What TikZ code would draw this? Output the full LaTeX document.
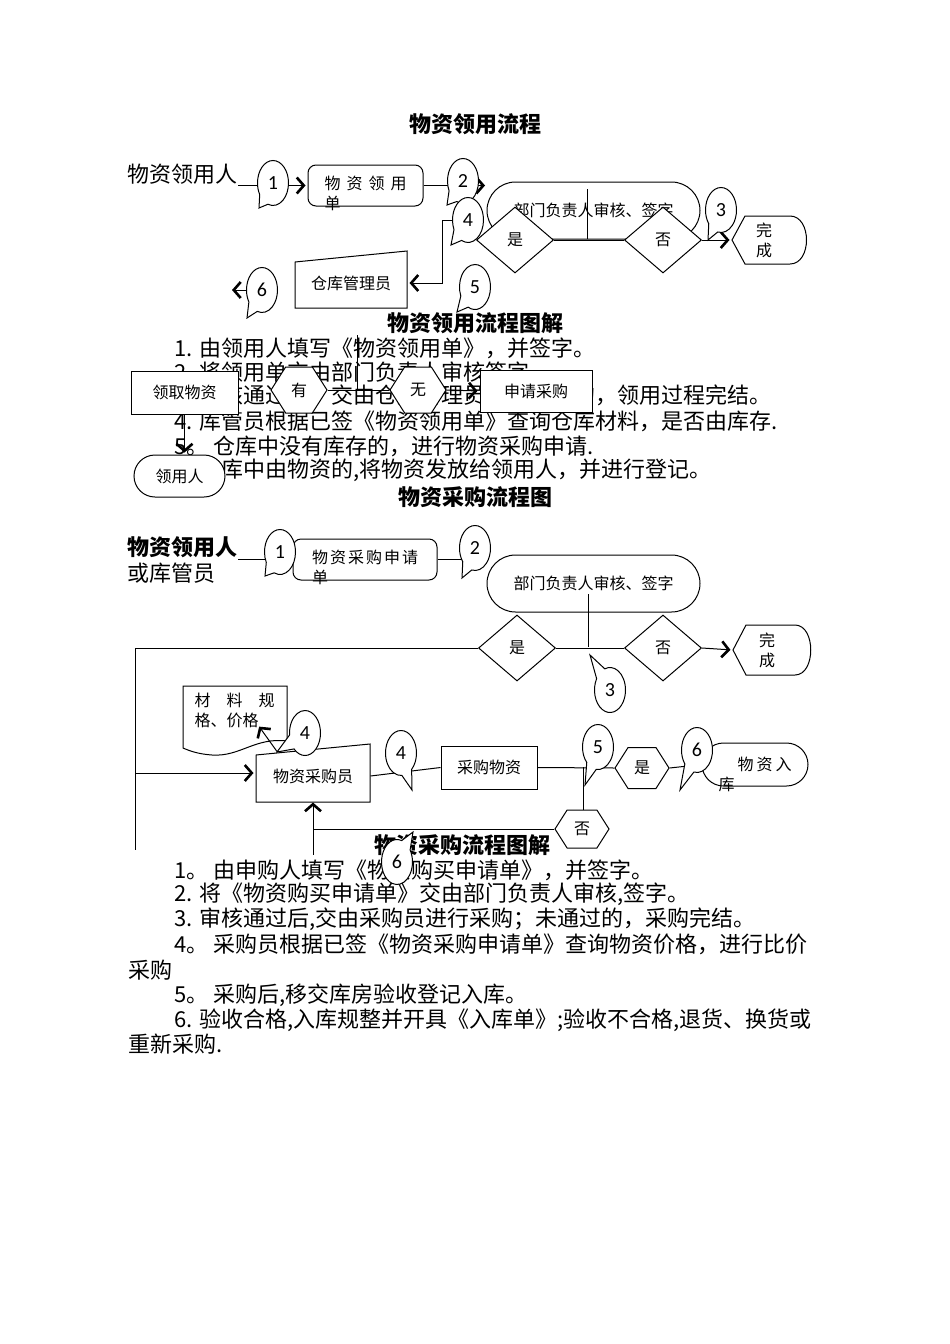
\documentclass[tikz,border=0pt]{standalone}
\usepackage{fontspec}
\setmainfont{Noto Sans CJK SC}
\newfontfamily\digitfont{Carlito}
\usepackage{tikz}
\usetikzlibrary{arrows.meta}
\usetikzlibrary{shapes.geometric}
\usetikzlibrary{shapes.misc}
\usetikzlibrary{shapes.symbols}
\usetikzlibrary{shapes.callouts}
\usetikzlibrary{calc}

\begin{document}
\begin{tikzpicture}[x=1pt, y=-1pt, line width=1pt,
                    body/.style={anchor=west, inner sep=0pt, font=\fontsize{22}{25}\selectfont},
                    headline/.style={inner sep=0pt, font=\fontsize{22}{25}\selectfont\bfseries},
                    small/.style={inner sep=0pt, font=\fontsize{16}{20}\selectfont},
                    box/.style={small, draw, fill=white, rectangle},
                    roundbox/.style={box, rounded corners=8pt},
                    pill/.style={small, draw, fill=white, rounded rectangle},
                    decision/.style={small, draw, fill=white, diamond, minimum width=77pt, minimum height=66pt},
                    hexa/.style={small, draw, fill=white, signal, signal to=east and west, signal pointer angle=115},
                    bubble/.style={draw, fill=white, ellipse callout, callout pointer arc=40, minimum width=31pt, minimum height=45pt, inner sep=0pt, font=\digitfont\fontsize{20}{20}\selectfont},
                    chev/.style={-{Straight Barb[length=7pt, width=16pt, line width=2.6pt]}, shorten >=2pt}]

    \useasboundingbox (0,0) rectangle (950,1344);
    \fill[white] (0,0) rectangle (950,1344);

    % titles
    \node[headline] (title1) at (475,124) {物资领用流程};
    \node[headline] (head1) at (475,323) {物资领用流程图解};
    \node[headline] (title2) at (475,497) {物资采购流程图};
    \node[headline] (head2) at (462,845) {物资采购流程图解};

    % notes, part 1
    \node[body] (r1) at (174,348) {1. 由领用人填写《物资领用单》，并签字。};
    \node[body] (r2) at (174,372) {2. 将领用单交由部门负责人审核签字。};
    \node[body] (r3) at (174,396) {3. 审核通过后，交由仓库管理员；未通过的，领用过程完结。};
    \node[body] (r4) at (174,421) {4. 库管员根据已签《物资领用单》查询仓库材料，是否由库存.};
    \node[body] (r5) at (174,446) {5。 仓库中没有库存的，进行物资采购申请.};
    \node[body] (r6) at (174,470) {6. 仓库中由物资的,将物资发放给领用人，并进行登记。};

    % notes, part 2
    \node[body] (s1) at (174,870) {1。 由申购人填写《物资购买申请单》，并签字。};
    \node[body] (s2) at (174,894) {2. 将《物资购买申请单》交由部门负责人审核,签字。};
    \node[body] (s3) at (174,919) {3. 审核通过后,交由采购员进行采购；未通过的，采购完结。};
    \node[body] (s4) at (174,944) {4。 采购员根据已签《物资采购申请单》查询物资价格，进行比价};
    \node[body] (s4b) at (128,970) {采购};
    \node[body] (s5) at (174,995) {5。 采购后,移交库房验收登记入库。};
    \node[body] (s6) at (174,1020) {6. 验收合格,入库规整并开具《入库单》;验收不合格,退货、换货或};
    \node[body] (s6b) at (128,1044) {重新采购.};

    % requisition flow
    \node[body] (user1) at (127,174) {物资领用人};
    \node[roundbox, minimum width=115pt, minimum height=41pt,
          label={[small, align=left, yshift=-8pt]center:{物\hspace{6pt}资\hspace{6pt}领\hspace{6pt}用\\单}}] (form1) at (365.5,185.5) {};
    \draw[chev] (user1.east |- form1.west) -- (form1.west);
    \coordinate (a2) at (487,183);
    \draw[chev] (form1.east) -- (form1.east -| a2);
    \node[pill, minimum width=213pt, minimum height=57pt] (dept1) at (593.5,210.5) {部门负责人审核、签字};
    \coordinate (j1) at (587,239);
    \draw (j1) -- ++(0,-50);
    \node[decision] (yes1) at (515,240) {是};
    \node[decision] (no1) at (663,240) {否};
    \draw (yes1.east) -- (no1.west);
    \draw[fill=white] (745,216) -- (732,240) -- (745,264) -- (790,264) .. controls (812,264) and (812,216) .. (790,216) -- cycle;
    \node[small, align=center, minimum width=64pt] (done1) at (764,240) {完\\成};
    \draw[chev] (no1.east) -- (done1.west);
    \draw[fill=white] (295,262) -- (407,251) -- (407,308) -- (295,308) -- cycle;
    \node[small, minimum width=112pt, minimum height=50pt] (wh1) at (351,283) {仓库管理员};

    \node[bubble, callout absolute pointer={(259,208)}] (p1) at (273,183) {1};
    \node[bubble, callout absolute pointer={(447,205)}] (p2) at (463,181) {2};
    \node[bubble, callout absolute pointer={(451,245)}] (p4) at (468,220) {4};
    \draw[chev] (p4.west) -- ++(-10,0) |- (wh1.east);
    \node[bubble, callout absolute pointer={(708,240)}] (p3) at (721,210) {3};
    \node[bubble, callout absolute pointer={(247,318)}] (p6) at (262,290) {6};
    \draw[chev] (p6.west) -- ++(-16,0);
    \node[bubble, callout absolute pointer={(457,312)}] (p5) at (475,287) {5};

    % stock check
    \node[box, minimum width=107pt, minimum height=43pt] (take1) at (184.5,392.5) {领取物资};
    \node[hexa, minimum width=56pt, minimum height=46pt] (have1) at (299,390) {有};
    \node[hexa, minimum width=56pt, minimum height=46pt] (none1) at (418,390) {无};
    \node[box, minimum width=112pt, minimum height=42pt] (apply1) at (536,391) {申请采购};
    \node[pill, minimum width=91pt, minimum height=42pt] (user1b) at (179.5,476) {领用人};
    \draw (have1.east) -- (none1.west);
    \draw[chev] (none1.east) -- (apply1.west);
    \coordinate (k1) at (357,390);
    \draw (k1) -- ++(0,-55);
    \draw[chev] (take1.south) -- (take1.south |- user1b.north);

    % purchase flow
    \node[anchor=west, align=left, inner sep=0pt, font=\fontsize{22}{26}\selectfont] (user2) at (127,560) {\textbf{物资领用人}\\或库管员};
    \node[roundbox, minimum width=144pt, minimum height=41pt,
          label={[small, align=left, yshift=-8pt]center:{物\hspace{2pt}资\hspace{2pt}采\hspace{2pt}购\hspace{2pt}申\hspace{2pt}请\\单}}] (form2) at (365,559.5) {};
    \draw (user2.east |- form2.west) -- (form2.west);
    \draw (form2.east) -- ++(30,0);
    \node[bubble, callout absolute pointer={(265,576)}] (q1) at (280,552) {1};
    \node[bubble, callout absolute pointer={(462,578)}] (q2) at (475,548) {2};
    \node[pill, minimum width=213pt, minimum height=57pt] (dept2) at (593.5,583.5) {部门负责人审核、签字};
    \coordinate (j2) at (588,647);
    \draw (j2) -- ++(0,-53);
    \node[decision] (yes2) at (517,648) {是};
    \node[decision] (no2) at (663,648) {否};
    \draw (yes2.east) -- (no2.west);
    \draw[fill=white] (746,625) -- (733,650) -- (746,675) -- (795,675) .. controls (816,675) and (816,625) .. (795,625) -- cycle;
    \node[small, align=center, minimum width=68pt] (done2) at (767,650) {完\\成};
    \draw[chev] (no2.east) -- (done2.west);
    \node[bubble, callout absolute pointer={(590,655)}] (q3) at (610,690) {3};

    \draw[fill=white] (183,686) -- (287,686) -- (287,741) .. controls (255,737) and (240,757) .. (212,755) .. controls (198,754) and (190,751) .. (183,748) -- cycle;
    \node[small, anchor=north west, align=left] (spec) at (194,693) {材\hspace{16pt}料\hspace{16pt}规\\格、价格};
    \draw[fill=white] (256,755) -- (370,744) -- (370,802) -- (256,802) -- cycle;
    \node[small, minimum width=114pt, minimum height=48pt] (buyer) at (313,776) {物资采购员};
    \coordinate (lt) at (135,648);
    \draw (yes2.west) -- (lt) -- ++(0,202);
    \coordinate (lm) at (135,773);
    \draw[chev] (lm) -- (lm -| buyer.west);
    \coordinate (spin) at (258,725);
    \draw[chev] ($(buyer.north)+(-36,0)$) -- (spin);

    \node[box, minimum width=96pt, minimum height=43pt] (purch) at (489,767.5) {采购物资};
    \node[hexa, minimum width=54pt, minimum height=41pt] (okhex) at (642,768) {是};
    \node[hexa, minimum width=54pt, minimum height=38pt] (nohex) at (582,829) {否};
    \node[pill, minimum width=106pt, minimum height=43pt,
          label={[small, align=left, yshift=-10pt]center:{\hspace{19pt}物\hspace{3pt}资\hspace{3pt}入\\库}}] (store) at (755,764.5) {};
    \draw (buyer.east) -- (purch.west);
    \draw (purch.east) -- (okhex.west);
    \coordinate (j5) at (583,767);
    \draw (j5) -- (j5 |- nohex.north);
    \draw (okhex.east) -- (store.west);
    \draw[chev] (nohex.west) -| (buyer.south);
    \draw (buyer.south |- nohex.west) -- ++(0,26);

    \node[bubble, callout absolute pointer={(277,752)}] (q4a) at (305,733) {4};
    \node[bubble, callout absolute pointer={(412,790)}] (q4b) at (401,753) {4};
    \node[bubble, callout absolute pointer={(585,785)}] (q5) at (598,747) {5};
    \node[bubble, callout absolute pointer={(680,790)}] (q6) at (697,750) {6};
    \node[bubble, callout absolute pointer={(413,832)}] (q6b) at (397,862) {6};
\end{tikzpicture}
\end{document}
